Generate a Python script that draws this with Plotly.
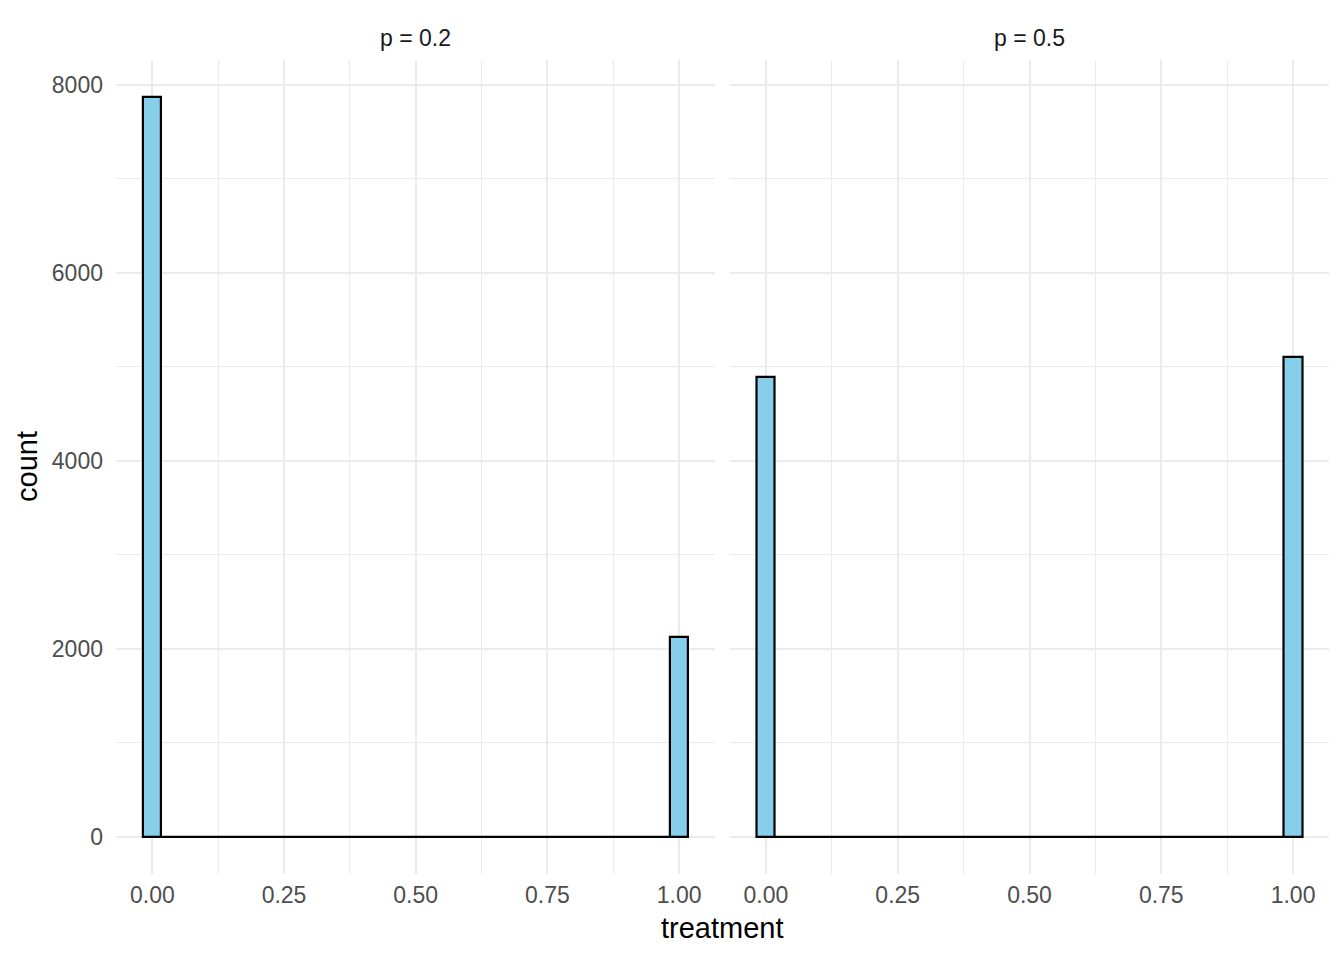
import numpy as np
import plotly.graph_objects as go

# ---- data ----
panels = ["p = 0.2", "p = 0.5"]
n_bins = 30
counts_p02 = [7870] + [0] * 28 + [2130]
counts_p05 = [4894] + [0] * 28 + [5106]
x_tick_vals = [0.0, 0.25, 0.5, 0.75, 1.0]
x_tick_text = ["0.00", "0.25", "0.50", "0.75", "1.00"]
y_tick_vals = [0, 2000, 4000, 6000, 8000]
y_tick_text = ["0", "2000", "4000", "6000", "8000"]

# ---- bin geometry (ggplot default: 30 bins over data range) ----
bw = 1.0 / (n_bins - 1)
centers = np.arange(n_bins) * bw
lo, hi = centers[0] - bw / 2, centers[-1] + bw / 2
xr = [lo - 0.05 * (hi - lo), hi + 0.05 * (hi - lo)]
ymax = max(max(counts_p02), max(counts_p05))
yr = [-0.05 * ymax, 1.05 * ymax]

FILL = "#87CEEB"
GRID = "#EBEBEB"
FONT = "Liberation Sans, Arial, sans-serif"

fig = go.Figure()
for i, counts in enumerate([counts_p02, counts_p05]):
    xa = "x" if i == 0 else "x2"
    ya = "y" if i == 0 else "y2"
    fig.add_trace(go.Scatter(x=[lo, hi], y=[0, 0], mode="lines",
                             line=dict(color="black", width=2.2),
                             xaxis=xa, yaxis=ya, showlegend=False, hoverinfo="skip"))
    fig.add_trace(go.Bar(x=centers, y=counts, width=bw,
                         marker=dict(color=FILL, line=dict(color="black", width=2.2)),
                         xaxis=xa, yaxis=ya, showlegend=False))

OFF = 8  # page body margin
W, H = 1344 - OFF, 960 - OFF

def px(x):
    return (x - OFF) / W

def py(y):
    return 1 - (y - OFF) / H

dom1 = [px(116), px(715.4)]
dom2 = [px(729.6), px(1329.4)]
ydom = [py(874), py(60)]

def xaxis(dom, anchor):
    return dict(domain=dom, range=xr, anchor=anchor, tickvals=x_tick_vals, ticktext=x_tick_text,
                showgrid=True, gridcolor=GRID, gridwidth=2, zeroline=False, showline=False,
                ticks="", tickfont=dict(family=FONT, size=23, color="#4D4D4D"),
                minor=dict(showgrid=True, gridcolor=GRID, gridwidth=1, dtick=0.125, tick0=0),
                ticklabelstandoff=5)

def yaxis(anchor, labels=True):
    return dict(domain=ydom, range=yr, anchor=anchor, tickvals=y_tick_vals, ticktext=y_tick_text,
                showgrid=True, gridcolor=GRID, gridwidth=2, zeroline=False, showline=False,
                ticks="", tickfont=dict(family=FONT, size=23, color="#4D4D4D"),
                minor=dict(showgrid=True, gridcolor=GRID, gridwidth=1, dtick=1000, tick0=0),
                showticklabels=labels, ticklabelstandoff=12)

fig.update_layout(
    width=W, height=H, margin=dict(l=0, r=0, t=0, b=0),
    paper_bgcolor="white", plot_bgcolor="white",
    xaxis=xaxis(dom1, "y"), xaxis2=xaxis(dom2, "y2"),
    yaxis=yaxis("x"), yaxis2=yaxis("x2", labels=False),
    bargap=0,
    font=dict(family=FONT),
    annotations=[
        dict(text=panels[0], x=(dom1[0] + dom1[1]) / 2, y=py(38), xref="paper", yref="paper",
             showarrow=False, font=dict(family=FONT, size=23, color="#1A1A1A"),
             xanchor="center", yanchor="middle"),
        dict(text=panels[1], x=(dom2[0] + dom2[1]) / 2, y=py(38), xref="paper", yref="paper",
             showarrow=False, font=dict(family=FONT, size=23, color="#1A1A1A"),
             xanchor="center", yanchor="middle"),
        dict(text="treatment", x=(dom1[0] + dom2[1]) / 2, y=py(928), xref="paper", yref="paper",
             showarrow=False, font=dict(family=FONT, size=29, color="black"),
             xanchor="center", yanchor="middle"),
        dict(text="count", x=px(27), y=(ydom[0] + ydom[1]) / 2, xref="paper", yref="paper",
             showarrow=False, textangle=-90, font=dict(family=FONT, size=29, color="black"),
             xanchor="center", yanchor="middle"),
    ],
)

fig.write_html("out.html")
